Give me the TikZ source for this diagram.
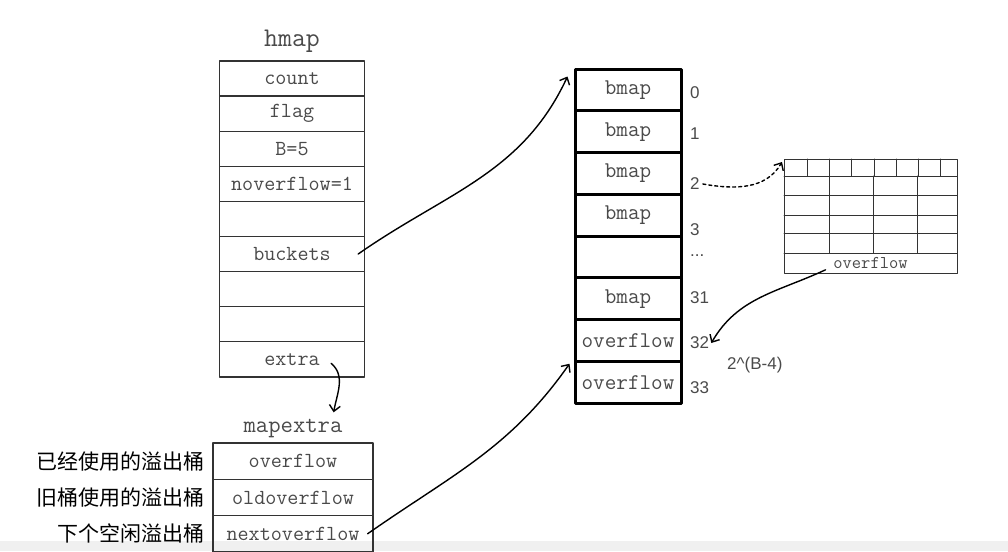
\documentclass[tikz,border=0pt]{standalone}
\usepackage{fontspec}
\setsansfont{Liberation Sans}
\newfontfamily\cjk{Noto Sans CJK SC}
\usetikzlibrary{positioning,arrows.meta}

\definecolor{linegray}{HTML}{333333}
\definecolor{textgray}{HTML}{4A4A4A}

\tikzset{
  hcell/.style={draw=linegray, line width=1.3pt, minimum width=145pt, minimum height=35.1pt,
    inner sep=0pt, font=\fontsize{21.5}{22}\selectfont\ttfamily, text=textgray},
  ecell/.style={hcell, minimum width=160pt, minimum height=36.3pt},
  bcell/.style={draw=black, line width=3pt, minimum width=106pt, minimum height=41.75pt,
    inner sep=0pt, font=\fontsize{22.5}{23}\selectfont\ttfamily, text=textgray},
  idx/.style={anchor=west, inner sep=0pt, font=\fontsize{17}{17}\selectfont\sffamily, text=textgray},
  title/.style={inner sep=0pt, font=\fontsize{27}{28}\selectfont\ttfamily, text=textgray},
  zh/.style={inner sep=0pt, font=\fontsize{21}{22}\selectfont\cjk, text=black},
  link/.style={draw=black, line width=1.4pt, -{Straight Barb[length=6pt,width=11pt]}}
}

\begin{document}
\begin{tikzpicture}[x=1pt, y=-1pt, line join=round, line cap=round]
\useasboundingbox (0,0) rectangle (1008,551);
\fill[gray!12] (0,541) rectangle (1008,551);

% hmap
\foreach \txt [count=\i] in {count,flag,B=5,noverflow=1,{},buckets,{},{},extra}
  \node[hcell] (h\i) at (292,{43.45+35.1*\i}) {\txt};
\node[title, above=8pt of h1] (hmap) {hmap};

% mapextra
\foreach \txt [count=\i] in {overflow,oldoverflow,nextoverflow}
  \node[ecell] (e\i) at (293,{424.85+36.3*\i}) {\txt};
\node[title, font=\fontsize{24}{25}\selectfont\ttfamily, above=4pt of e1] (mapextra) {mapextra};
\foreach \txt [count=\i] in {已经使用的溢出桶,旧桶使用的溢出桶,下个空闲溢出桶}
  \node[zh, left=8pt of e\i] (z\i) {\txt};

% buckets array
\foreach \txt [count=\i] in {bmap,bmap,bmap,bmap,{},bmap,overflow,overflow}
  \node[bcell] (b\i) at (628,{48.125+41.75*\i}) {\txt};
\foreach \lbl/\y [count=\i] in {0/93,1/134,2/184,3/230,{...}/256,31/298,32/343,33/388}
  \node[idx] (n\i) at (690,\y) {\lbl};
\node[idx] (size) at (727,365) {2\textasciicircum(B-4)};

% one bucket
\begin{scope}[draw=linegray, line width=1pt]
\draw (784,159) rectangle (957,273);
\foreach \y in {176,195,215,233,253} \draw (784,\y) -- (957,\y);
\foreach \x in {807,829,851,874,896,918,940} \draw (\x,159) -- (\x,176);
\foreach \x in {829,873,917} \draw (\x,176) -- (\x,253);
\end{scope}
\node[inner sep=0pt, font=\fontsize{18}{18}\selectfont\ttfamily, text=textgray] (govf) at (870.5,263) {overflow};
\coordinate (gtop) at (782,162);

% links
\draw[link] ([xshift=-7pt]h6.east) to[out=35, in=-115] ([xshift=-6pt,yshift=-9pt]b1.north west);
\draw[link] ([xshift=-34pt,yshift=-4pt]h9.east) to[out=-40, in=80] ([xshift=-9pt,yshift=7pt]mapextra.north east);
\draw[link] ([xshift=-6pt]e3.east) to[out=35, in=-125] ([xshift=-4pt,yshift=-4pt]b8.north west);
\draw[link, dashed] ([xshift=3pt]n3.east) to[out=-10, in=-120] (gtop);
\draw[link] ([xshift=-45pt,yshift=-1pt]govf.south) to[out=-155, in=60] ([xshift=2pt]n7.east);
\end{tikzpicture}
\end{document}
